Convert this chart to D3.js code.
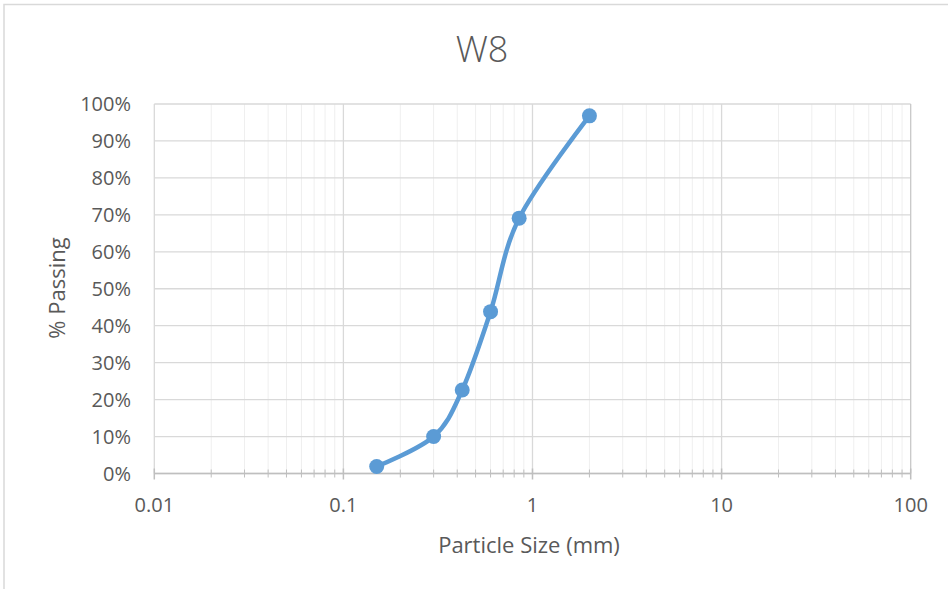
<!DOCTYPE html>
<html>
<head>
<meta charset="utf-8">
<script src="https://cdn.jsdelivr.net/npm/d3@7"></script>
<style>
  body { margin: 0; background: #fff; }
  svg text { font-family: "Open Sans", "Noto Sans", sans-serif; fill: #595959; }
</style>
</head>
<body>
<div class="chart"></div>
<script>
// sieve results
const sizes = [0.15, 0.3, 0.425, 0.6, 0.85, 2];
const passing = [0.019, 0.10, 0.226, 0.438, 0.691, 0.968];
const xTicks = [0.01, 0.1, 1, 10, 100];
const yTicks = [0, 0.1, 0.2, 0.3, 0.4, 0.5, 0.6, 0.7, 0.8, 0.9, 1];

const width = 948, height = 589;
const margin = {left: 154.3, right: 948 - 910.7, top: 104, bottom: 589 - 473.5};

const svg = d3.select(".chart").append("svg")
  .attr("width", width)
  .attr("height", height);

// outer chart frame
svg.append("rect")
  .attr("x", 4).attr("y", 4.5)
  .attr("width", width + 10).attr("height", height + 10)
  .attr("fill", "none")
  .attr("stroke", "#d9d9d9")
  .attr("stroke-width", 1.5);

const x = d3.scaleLog().domain([0.01, 100]).range([margin.left, width - margin.right]);
const y = d3.scaleLinear().domain([0, 1]).range([height - margin.bottom, margin.top]);

// minor values: 2..9 in each decade
const minor = [];
for (let d = 0.01; d < 100; d *= 10) {
  for (let k = 2; k <= 9; k++) minor.push(+(d * k).toPrecision(3));
}

const grid = svg.append("g");
grid.selectAll(".minor")
  .data(minor)
  .join("line")
  .attr("class", "minor")
  .attr("x1", d => x(d)).attr("x2", d => x(d))
  .attr("y1", y(1)).attr("y2", y(0))
  .attr("stroke", "#efefef")
  .attr("stroke-width", 1);

grid.selectAll(".hgrid")
  .data(yTicks)
  .join("line")
  .attr("class", "hgrid")
  .attr("x1", x(0.01)).attr("x2", x(100))
  .attr("y1", d => y(d)).attr("y2", d => y(d))
  .attr("stroke", "#d9d9d9")
  .attr("stroke-width", 1.3);

grid.selectAll(".major")
  .data(xTicks)
  .join("line")
  .attr("class", "major")
  .attr("x1", d => x(d)).attr("x2", d => x(d))
  .attr("y1", y(1)).attr("y2", y(0))
  .attr("stroke", d => d === 100 ? "#c8c8c8" : "#d9d9d9")
  .attr("stroke-width", 1.3);

// x axis with major and minor ticks
const axis = svg.append("g").attr("transform", `translate(0,${y(0)})`);
axis.append("line")
  .attr("x1", x(0.01)).attr("x2", x(100))
  .attr("stroke", "#bfbfbf").attr("stroke-width", 1.5);
axis.selectAll(".mtick")
  .data(minor)
  .join("line")
  .attr("class", "mtick")
  .attr("x1", d => x(d)).attr("x2", d => x(d))
  .attr("y1", -4).attr("y2", 4)
  .attr("stroke", "#bfbfbf");
axis.selectAll(".Mtick")
  .data(xTicks)
  .join("line")
  .attr("class", "Mtick")
  .attr("x1", d => x(d)).attr("x2", d => x(d))
  .attr("y1", -5).attr("y2", 6)
  .attr("stroke", "#bfbfbf").attr("stroke-width", 1.5);
axis.selectAll(".xlab")
  .data(xTicks)
  .join("text")
  .attr("class", "xlab")
  .attr("x", d => x(d))
  .attr("y", 38.5)
  .attr("text-anchor", "middle")
  .style("font-size", "20px")
  .text(d => d3.format("~g")(d));

svg.selectAll(".ylab")
  .data(yTicks)
  .join("text")
  .attr("class", "ylab")
  .attr("x", 131)
  .attr("y", d => y(d) + 7)
  .attr("text-anchor", "end")
  .style("font-size", "20px")
  .text(d => d3.format(".0%")(d));

// titles
svg.append("text")
  .attr("x", 482).attr("y", 62)
  .attr("text-anchor", "middle")
  .style("font-size", "36px")
  .style("font-weight", 300)
  .text("W8");

svg.append("text")
  .attr("x", 529).attr("y", 553)
  .attr("text-anchor", "middle")
  .style("font-size", "22px")
  .text("Particle Size (mm)");

svg.append("text")
  .attr("transform", "translate(65,288) rotate(-90)")
  .attr("text-anchor", "middle")
  .style("font-size", "22px")
  .text("% Passing");

// curve and markers
const pts = sizes.map((s, i) => [s, passing[i]]);
const line = d3.line()
  .x(d => x(d[0]))
  .y(d => y(d[1]))
  .curve(d3.curveCatmullRom.alpha(0));

svg.append("path")
  .datum(pts)
  .attr("d", line)
  .attr("fill", "none")
  .attr("stroke", "#5b9bd5")
  .attr("stroke-width", 4.5)
  .attr("stroke-linecap", "round");

svg.selectAll(".pt")
  .data(pts)
  .join("circle")
  .attr("class", "pt")
  .attr("cx", d => x(d[0]))
  .attr("cy", d => y(d[1]))
  .attr("r", 7.5)
  .attr("fill", "#5b9bd5");
</script>
</body>
</html>
